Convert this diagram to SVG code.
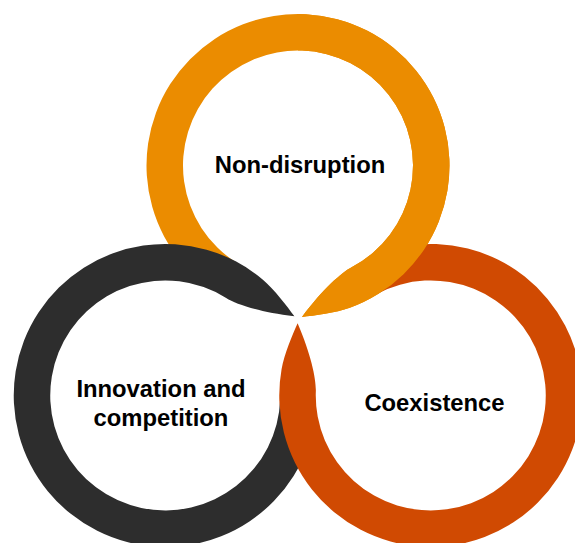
<svg xmlns="http://www.w3.org/2000/svg" xmlns:xlink="http://www.w3.org/1999/xlink" width="575" height="543" viewBox="0 0 575 543">
  <style>
    .label { font-family: "Liberation Sans", Arial, sans-serif; font-weight: bold; font-size: 23.8px; fill: #000000; text-anchor: middle; }
    .orange { fill: #EB8C00; }
    .dark { fill: #2D2D2D; }
    .red { fill: #D04A02; }
  </style>
  <defs>
    <path id="ringTail" d="M -116.06 97.38 A 151.5 151.5 0 1 1 51.82 142.36 C 37.72 147.49 15.97 150.25 3.97 151.45 C 24.97 123.45 43.39 107.17 53.99 101.54 A 115 115 0 1 0 -60.94 97.53 Z"/>
    <clipPath id="rightUpper">
      <rect x="298" y="0" width="277" height="318.8"/>
    </clipPath>
  </defs>
  <rect width="575" height="543" fill="#ffffff"/>
  <g id="non-disruption">
    <use xlink:href="#ringTail" href="#ringTail" class="orange" transform="translate(298 165.5)"/>
    <text class="label" x="300" y="173">Non-disruption</text>
  </g>
  <g id="innovation-and-competition">
    <use xlink:href="#ringTail" href="#ringTail" class="dark" transform="rotate(240 298 318.8) translate(298 165.5)"/>
    <text class="label" x="161" y="397">Innovation and</text>
    <text class="label" x="161" y="425.5">competition</text>
  </g>
  <g id="coexistence">
    <use xlink:href="#ringTail" href="#ringTail" class="red" transform="rotate(120 298 318.8) translate(298 165.5)"/>
    <text class="label" x="434.5" y="411">Coexistence</text>
  </g>
  <g id="non-disruption-tail-overlay" clip-path="url(#rightUpper)">
    <use xlink:href="#ringTail" href="#ringTail" class="orange" transform="translate(298 165.5)"/>
  </g>
</svg>
